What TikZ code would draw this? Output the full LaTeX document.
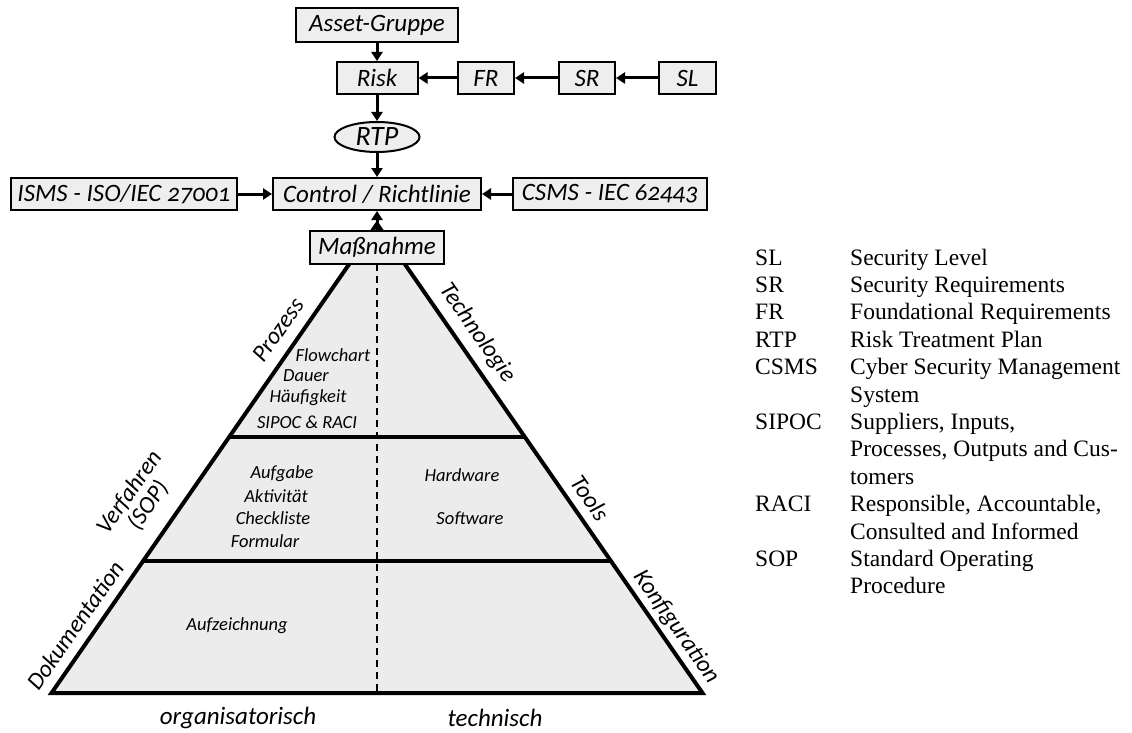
\documentclass[tikz,border=0pt]{standalone}
\usepackage{fontspec}
\setmainfont{Carlito}[Numbers=OldStyle]
\newfontfamily\legendfont{Liberation Serif}
\usetikzlibrary{arrows.meta,shapes.geometric}
\definecolor{boxgray}{HTML}{EEEEEE}
\definecolor{pyrgray}{HTML}{ECECEC}
\begin{document}
\begin{tikzpicture}[x=1pt,y=-1pt,
  box/.style={draw, line width=2pt, fill=boxgray, inner sep=0pt, minimum height=32pt,
    font=\fontsize{25}{29}\selectfont\itshape},
  oval/.style={draw, line width=2pt, fill=boxgray, ellipse, inner sep=0pt,
    minimum width=85pt, minimum height=30pt, font=\fontsize{28}{32}\selectfont\itshape},
  arr/.style={line width=3pt, -{Triangle[length=9pt,width=11pt]}},
  inner/.style={font=\fontsize{18.5}{22}\selectfont\itshape, inner sep=0pt},
  side/.style={font=\fontsize{24}{23}\selectfont\itshape, inner sep=0pt, align=center},
  bottom/.style={font=\fontsize{25}{29}\selectfont\itshape, inner sep=0pt},
  leg/.style={font=\legendfont\fontsize{23.5}{27}\selectfont, inner sep=0pt, anchor=base west}
]
\useasboundingbox (0,0) rectangle (1132,733);

% pyramid
\coordinate (apex) at (377,224);
\coordinate (bl) at (51.5,693);
\coordinate (br) at (702.5,693);
\coordinate (d1l) at (229,437);
\coordinate (d1r) at (525,437);
\coordinate (d2l) at (143,561);
\coordinate (d2r) at (611,561);
\coordinate (dtop) at (377,264);
\coordinate (dbot) at (377,693);
\fill[pyrgray] (apex) -- (bl) -- (br) -- cycle;
\draw[line width=1.5pt, dash pattern=on 7pt off 5pt] (dtop) -- (dbot);
\draw[line width=4pt] (d1l) -- (d1r);
\draw[line width=4pt] (d2l) -- (d2r);
\draw[line width=4pt, line join=miter] (apex) -- (bl) -- (br) -- cycle;

% top flow
\node[box, minimum width=162pt, minimum height=34pt] (asset) at (377,25) {Asset-Gruppe};
\node[box, minimum width=81pt] (risk) at (377,78) {Risk};
\node[box, minimum width=56pt] (fr) at (486,78) {FR};
\node[box, minimum width=56pt] (sr) at (587,78) {SR};
\node[box, minimum width=57pt] (sl) at (687.5,78) {SL};
\node[oval] (rtp) at (377,137) {RTP};
\node[box, minimum width=208pt] (control) at (377,194) {Control / Richtlinie};
\node[box, minimum width=226pt] (isms) at (124,194) {ISMS - ISO/IEC 27001};
\node[box, minimum width=194pt] (csms) at (610,194) {CSMS - IEC 62443};
\node[box, minimum width=134pt, minimum height=33pt] (mass) at (377,247.5) {Maßnahme};

\draw[arr] (asset) -- (risk);
\draw[arr] (fr) -- (risk);
\draw[arr] (sr) -- (fr);
\draw[arr] (sl) -- (sr);
\draw[arr] (risk) -- (rtp);
\draw[arr] (rtp) -- (control);
\draw[arr] (isms) -- (control);
\draw[arr] (csms) -- (control);
\draw[arr] (mass) -- (control);

% inner texts
\node[inner] (t1) at (333,355) {Flowchart};
\node[inner] (t2) at (306,376) {Dauer};
\node[inner] (t3) at (308,398) {Häufigkeit};
\node[inner] (t4) at (307,422) {SIPOC \& RACI};
\node[inner] (t5) at (282,474) {Aufgabe};
\node[inner] (t6) at (276,496) {Aktivität};
\node[inner] (t7) at (273,518) {Checkliste};
\node[inner] (t8) at (265,541) {Formular};
\node[inner] (t9) at (462,475) {Hardware};
\node[inner] (t10) at (470,518) {Software};
\node[inner] (t11) at (237,626) {Aufzeichnung};

% side labels
\node[side, rotate=55] (s1) at (278,330) {Prozess};
\node[side, rotate=55] (s2) at (139,499) {Verfahren\\(SOP)};
\node[side, rotate=55] (s3) at (75,625) {Dokumentation};
\node[side, rotate=-55] (s4) at (477,333) {Technologie};
\node[side, rotate=-55] (s5) at (590,498) {Tools};
\node[side, rotate=-55] (s6) at (676,627) {Konfiguration};

\node[bottom] (b1) at (238,718) {organisatorisch};
\node[bottom] (b2) at (495,718) {technisch};

% legend
\node[leg] (a1) at (755,265) {SL};
\node[leg] (e1) at (850,265) {Security Level};
\node[leg] (a2) at (755,292.4) {SR};
\node[leg] (e2) at (850,292.4) {Security Requirements};
\node[leg] (a3) at (755,319.8) {FR};
\node[leg] (e3) at (850,319.8) {Foundational Requirements};
\node[leg] (a4) at (755,347.2) {RTP};
\node[leg] (e4) at (850,347.2) {Risk Treatment Plan};
\node[leg] (a5) at (755,374.6) {CSMS};
\node[leg] (e5) at (850,374.6) {Cyber Security Management};
\node[leg] (e5b) at (850,402) {System};
\node[leg] (a6) at (755,429.4) {SIPOC};
\node[leg] (e6) at (850,429.4) {Suppliers, Inputs,};
\node[leg] (e6b) at (850,456.8) {Processes, Outputs and Cus-};
\node[leg] (e6c) at (850,484.2) {tomers};
\node[leg] (a7) at (755,511.6) {RACI};
\node[leg] (e7) at (850,511.6) {Responsible, Accountable,};
\node[leg] (e7b) at (850,539) {Consulted and Informed};
\node[leg] (a8) at (755,566.4) {SOP};
\node[leg] (e8) at (850,566.4) {Standard Operating};
\node[leg] (e8b) at (850,593.8) {Procedure};
\end{tikzpicture}
\end{document}
